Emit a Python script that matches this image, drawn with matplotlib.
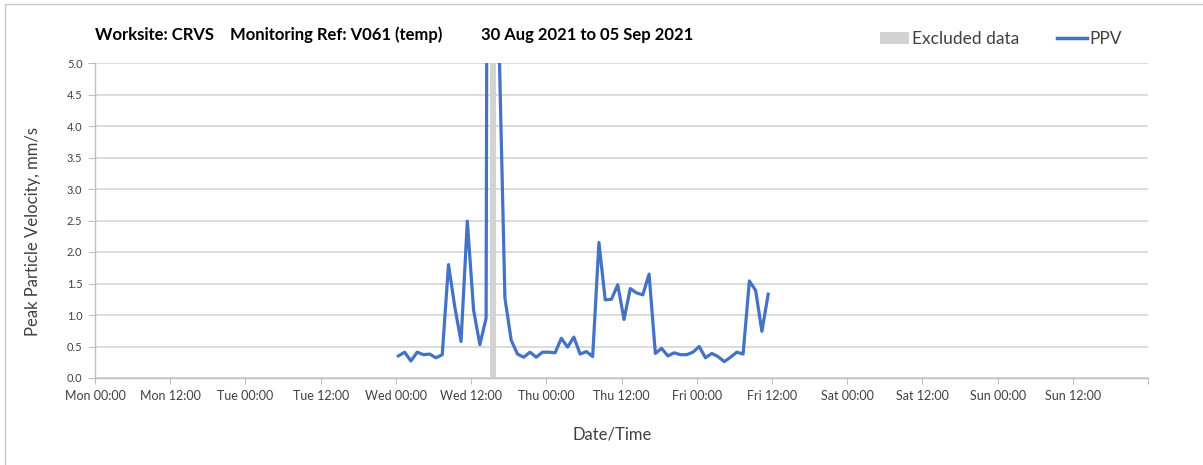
import numpy as np
import pandas as pd
import matplotlib
matplotlib.use('Agg')
import matplotlib.pyplot as plt
import matplotlib.dates as mdates
from matplotlib.patches import Rectangle, Patch
from matplotlib.lines import Line2D

plt.rcParams['font.family'] = ['Lato', 'DejaVu Sans']

# datos
titulo_1 = 'Worksite: CRVS    Monitoring Ref: V061 (temp)'
titulo_2 = '30 Aug 2021 to 05 Sep 2021'
inicio_eje = '2021-08-30 00:00'
fin_eje = '2021-09-06 00:00'
inicio_datos = '2021-09-01 00:24'   # lecturas horarias
excluido = ['2021-09-01 15:00', '2021-09-01 16:00']

ppv = [0.35, 0.41, 0.27, 0.41, 0.37, 0.38, 0.32, 0.37, 1.80, 1.13,
       0.58, 2.49, 1.08, 0.53, 0.95, 45.0, 5.6, 1.27, 0.60, 0.38,
       0.33, 0.41, 0.33, 0.41, 0.41, 0.40, 0.63, 0.49, 0.65, 0.38,
       0.42, 0.34, 2.15, 1.24, 1.25, 1.48, 0.93, 1.42, 1.35, 1.32,
       1.65, 0.39, 0.47, 0.35, 0.40, 0.37, 0.37, 0.41, 0.50, 0.32,
       0.39, 0.34, 0.26, 0.33, 0.41, 0.38, 1.54, 1.39, 0.74, 1.33]

tiempos = pd.date_range(inicio_datos, periods=len(ppv), freq='h')

azul = '#4472C4'
gris_banda = '#d3d3d3'
gris_grid = '#d9d9d9'
gris_eje = '#bfbfbf'

fig = plt.figure(figsize=(12.03, 4.65), dpi=100)
ax = fig.add_axes([95/1203, 1-378/465, (1148-95)/1203, (378-63)/465])

ax.axvspan(pd.Timestamp(excluido[0]), pd.Timestamp(excluido[1]), color=gris_banda, lw=0, zorder=1)
ax.plot(tiempos, ppv, color=azul, lw=2.3, zorder=3)

ax.set_xlim(pd.Timestamp(inicio_eje), pd.Timestamp(fin_eje))
ax.set_ylim(0, 5)
ax.set_yticks(np.arange(0, 5.01, 0.5))
ax.yaxis.set_major_formatter(matplotlib.ticker.FormatStrFormatter('%.1f'))

ax.xaxis.set_major_locator(mdates.HourLocator(byhour=[0, 12]))
ax.xaxis.set_minor_locator(mdates.HourLocator(byhour=[0]))
ticks_x = ax.get_xticks()
ax.set_xticks(ticks_x)
etiquetas = [mdates.num2date(t).strftime('%a %H:%M') for t in ticks_x]
etiquetas[-1] = ''
ax.set_xticklabels(etiquetas)

ax.grid(True, axis='y', color=gris_grid, lw=1.3, zorder=0)
ax.grid(True, axis='x', which='minor', color=gris_grid, lw=1.3, zorder=0)
ax.set_axisbelow(True)

for s in ['top', 'right']:
    ax.spines[s].set_visible(False)
for s in ['left', 'bottom']:
    ax.spines[s].set_color(gris_eje)
    ax.spines[s].set_linewidth(1.0)

ax.tick_params(axis='y', which='major', length=5, color=gris_eje, labelsize=8, labelcolor='#404040', pad=4)
ax.tick_params(axis='x', which='major', length=4, color=gris_eje, labelsize=9, labelcolor='#404040', pad=5)
ax.tick_params(axis='x', which='minor', length=0)

ax.set_ylabel('Peak Particle Velocity, mm/s', fontsize=12, color='#404040')
ax.yaxis.set_label_coords((33-95)/1053, (378-231)/315)
ax.set_xlabel('Date/Time', fontsize=12, color='#404040')
ax.xaxis.set_label_coords((612-95)/1053, (378-434)/315)
ax.xaxis.label.set_va('center')
ax.yaxis.label.set_va('center')

fig.text(95/1203, 1-35/465, titulo_1, fontsize=12, fontweight='bold', va='center', ha='left')
fig.text(481/1203, 1-35/465, titulo_2, fontsize=12, fontweight='bold', va='center', ha='left')

manejadores = [Patch(facecolor=gris_banda, edgecolor='none', label='Excluded data'),
               Line2D([0], [0], color=azul, lw=2.5, label='PPV')]
fig.legend(handles=manejadores, loc='center', bbox_to_anchor=(1001/1203, 1-39/465), ncol=2,
           frameon=False, fontsize=12.5, handlelength=1.7, handletextpad=0.15, columnspacing=2.2,
           labelcolor='#404040')

fig.patches.append(Rectangle((5/1203, -0.1), 1.2, 1-4/465+0.1, transform=fig.transFigure,
                             fill=False, edgecolor='#c8c8c8', lw=1.0))

fig.savefig('out.png', dpi=100)
